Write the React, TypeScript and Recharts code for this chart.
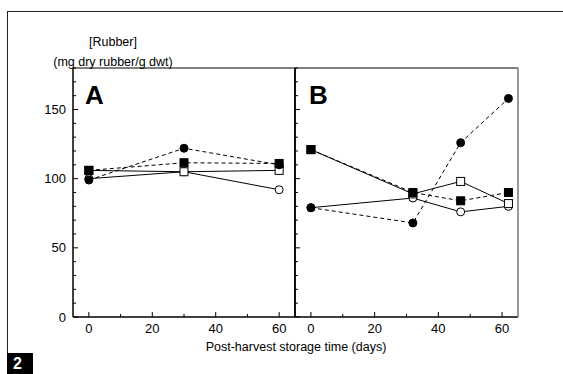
import React from "react";
import { LineChart, Line, XAxis, YAxis } from "recharts";

// panel A: harvest stored 0-60 days
const daysA = [0, 30, 60];
const aOpenSquare = [106, 105, 106];
const aOpenCircle = [100, 105, 92];
const aFilledSquare = [106, 111.5, 111];
const aFilledCircle = [99, 122, 110];

// panel B
const daysB = [0, 32, 47, 62];
const bOpenSquare = [121, 89, 98, 82];
const bOpenCircle = [79, 86, 76, 80];
const bFilledSquare = [121, 90, 84, 90];
const bFilledCircle = [79, 68, 126, 158];

const dayTicks = [0, 10, 20, 30, 40, 50, 60];
const rubberTicks = [0, 10, 20, 30, 40, 50, 60, 70, 80, 90, 100, 110, 120, 130, 140, 150, 160, 170, 180];

const tableA = daysA.map((day, i) => ({
  day,
  openSquare: aOpenSquare[i],
  openCircle: aOpenCircle[i],
  filledSquare: aFilledSquare[i],
  filledCircle: aFilledCircle[i],
}));

const tableB = daysB.map((day, i) => ({
  day,
  openSquare: bOpenSquare[i],
  openCircle: bOpenCircle[i],
  filledSquare: bFilledSquare[i],
  filledCircle: bFilledCircle[i],
}));

const FONT = "'Liberation Sans', Arial, sans-serif";

function circleDot(fill: string) {
  return (p: any) => (
    <circle key={`c-${fill}-${p.index}`} cx={p.cx} cy={p.cy} r={4} fill={fill} stroke="#000" strokeWidth={1} />
  );
}

function squareDot(fill: string) {
  return (p: any) => (
    <rect key={`s-${fill}-${p.index}`} x={p.cx - 4} y={p.cy - 4} width={8} height={8} fill={fill} stroke="#000" strokeWidth={1} />
  );
}

function makeYTick(showLabel: boolean) {
  return (props: any) => {
    const { x, y, payload } = props;
    const major = payload.value % 50 === 0;
    return (
      <g>
        <line x1={x} x2={x + (major ? 5 : 3)} y1={y} y2={y} stroke="#000" />
        {showLabel && major && (
          <text x={x - 7} y={y} dy={4.5} textAnchor="end" fontSize={13} fontFamily={FONT} fill="#000">
            {payload.value}
          </text>
        )}
      </g>
    );
  };
}

function XTick(props: any) {
  const { x, y, payload } = props;
  const major = payload.value % 20 === 0;
  return (
    <g>
      <line x1={x} x2={x} y1={y} y2={y - (major ? 5 : 3)} stroke="#000" />
      {major && (
        <text x={x} y={y + 16} textAnchor="middle" fontSize={13} fontFamily={FONT} fill="#000">
          {payload.value}
        </text>
      )}
    </g>
  );
}

function Panel({ data, width, margin, yWidth, showYLabels, rightStroke }: any) {
  return (
    <LineChart width={width} height={374} data={data} margin={margin}>
      <XAxis
        dataKey="day"
        type="number"
        domain={[-5, 65]}
        ticks={dayTicks}
        interval={0}
        height={30}
        tickSize={0}
        tickMargin={0}
        tickLine={false}
        tick={XTick}
        axisLine={{ stroke: "#000", strokeWidth: 1.5 }}
      />
      <XAxis xAxisId="top" dataKey="day" orientation="top" type="number" domain={[-5, 65]} height={1} tick={false} tickLine={false} axisLine={{ stroke: "#000" }} />
      <YAxis
        type="number"
        domain={[0, 180]}
        ticks={rubberTicks}
        interval={0}
        width={yWidth}
        tickSize={0}
        tickMargin={0}
        tickLine={false}
        tick={makeYTick(showYLabels)}
        axisLine={{ stroke: "#000", strokeWidth: 1.5 }}
      />
      <YAxis yAxisId="right" orientation="right" type="number" domain={[0, 180]} width={1} tick={false} tickLine={false} axisLine={{ stroke: rightStroke, strokeWidth: 1.5 }} />
      <Line dataKey="openCircle" stroke="#000" strokeWidth={1} dot={circleDot("#fff")} activeDot={false} isAnimationActive={false} />
      <Line dataKey="openSquare" stroke="#000" strokeWidth={1} dot={squareDot("#fff")} activeDot={false} isAnimationActive={false} />
      <Line dataKey="filledCircle" stroke="#000" strokeWidth={1} strokeDasharray="4 3" dot={circleDot("#000")} activeDot={false} isAnimationActive={false} />
      <Line dataKey="filledSquare" stroke="#000" strokeWidth={1} strokeDasharray="4 3" dot={squareDot("#000")} activeDot={false} isAnimationActive={false} />
    </LineChart>
  );
}

export default function App() {
  return (
    <div style={{ position: "absolute", left: 0, top: 0, width: 563, height: 374, background: "#fff", fontFamily: FONT, overflow: "hidden" }}>
      <div style={{ position: "absolute", left: 7, top: 11, width: 560, height: 342, borderTop: "1px solid #222", borderLeft: "1px solid #222" }} />
      <div style={{ position: "absolute", left: 43, top: 35, width: 140, textAlign: "center", fontSize: 12.5, lineHeight: "15px" }}>[Rubber]</div>
      <div style={{ position: "absolute", left: 43, top: 54.5, width: 140, textAlign: "center", fontSize: 12.5, lineHeight: "15px" }}>(mg dry rubber/g dwt)</div>

      <div style={{ position: "absolute", left: 0, top: 0 }}>
        <Panel data={tableA} width={300} margin={{ top: 67, right: 4, bottom: 27, left: 0 }} yWidth={73} showYLabels={true} rightStroke="#000" />
      </div>
      <div style={{ position: "absolute", left: 290, top: 0 }}>
        <Panel data={tableB} width={273} margin={{ top: 67, right: 44, bottom: 27, left: 4 }} yWidth={1} showYLabels={false} rightStroke="#777" />
      </div>

      <div style={{ position: "absolute", left: 85, top: 80, fontSize: 26, fontWeight: "bold", lineHeight: "30px" }}>A</div>
      <div style={{ position: "absolute", left: 309, top: 80, fontSize: 26, fontWeight: "bold", lineHeight: "30px" }}>B</div>

      <div style={{ position: "absolute", left: 146, top: 340, width: 300, textAlign: "center", fontSize: 12.5, lineHeight: "15px" }}>
        Post-harvest storage time (days)
      </div>

      <div style={{ position: "absolute", left: 7, top: 353, width: 26, height: 21, background: "#000", color: "#fff", fontWeight: "bold", fontSize: 16, lineHeight: "22px", paddingLeft: 6, boxSizing: "border-box" }}>
        2
      </div>
    </div>
  );
}
